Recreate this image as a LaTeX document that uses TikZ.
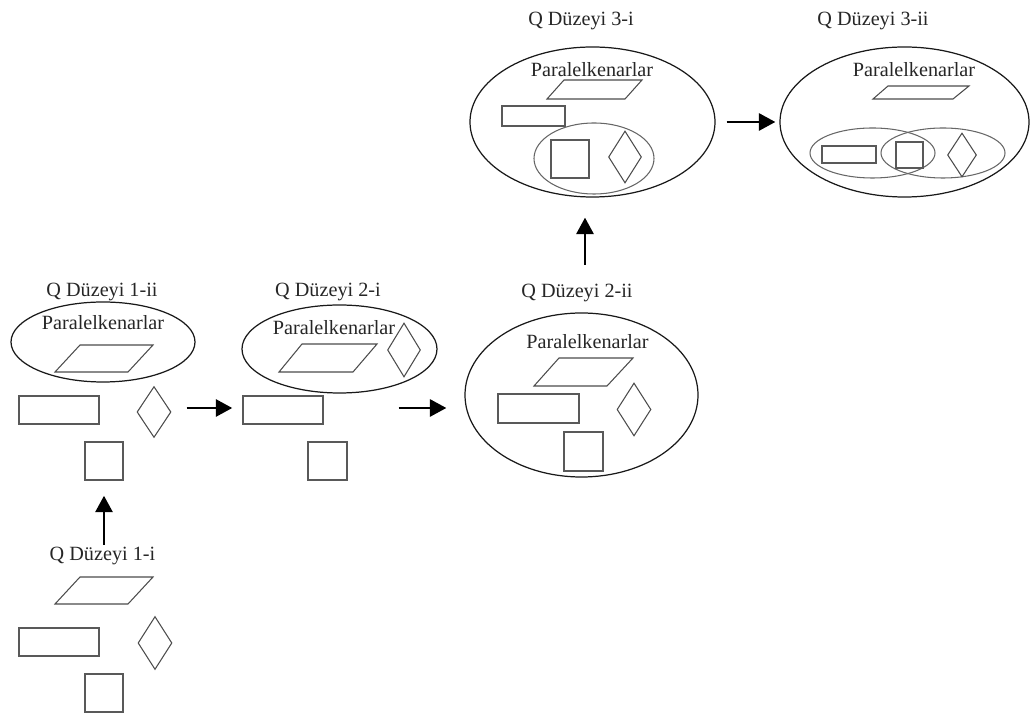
\documentclass[tikz,border=0pt]{standalone}
\usepackage{fontspec}
\setmainfont{Liberation Serif}
\usetikzlibrary{shapes,arrows.meta,positioning}
\tikzset{
  every node/.style={
    font=\fontsize{11.5}{13}\selectfont,
    text=black!85,
    inner sep=0pt
  },
  grup/.style 2 args={
    shape=ellipse,
    draw=black!90,
    line width=0.7pt,
    minimum width=#1,
    minimum height=#2
  },
  altgrup/.style 2 args={
    shape=ellipse,
    draw=black!60,
    line width=0.6pt,
    minimum width=#1,
    minimum height=#2
  },
  dortgen/.style 2 args={
    shape=rectangle,
    draw=black!65,
    line width=0.8pt,
    minimum width=#1,
    minimum height=#2
  },
  eskenar/.style 2 args={
    shape=diamond,
    draw=black!70,
    line width=0.6pt,
    minimum width=#1,
    minimum height=#2
  },
  paralel/.style={
    draw=black!70,
    line width=0.6pt
  },
  ok/.style={
    line width=1.7pt,
    -{Triangle[width=3.4mm,length=3.3mm]}
  }
}

\begin{document}
\begin{tikzpicture}[x=0.2mm,y=-0.2mm]
  \useasboundingbox (0,0) rectangle (1030,713);

  % Q Duzeyi 1-i
  \node (lbl1i) at (102.5,556) {Q Düzeyi 1-i};
  \draw[paralel] (55,604) -- (80,577) -- (153,577) -- (128,604) -- cycle;
  \node [dortgen={16mm}{5.6mm}] (dik1i) at (59,642) {};
  \node [eskenar={6.8mm}{10.6mm}] (esk1i) at (155,643) {};
  \node [dortgen={7.6mm}{7.6mm}] (kare1i) at (104,693) {};

  % Q Duzeyi 1-ii
  \node (lbl1ii) at (102,292) {Q Düzeyi 1-ii};
  \node [grup={36.8mm}{16mm}] (e1ii) at (103,342) {};
  \node (pk1ii) at (103,323) {Paralelkenarlar};
  \draw[paralel] (55,372) -- (80,345) -- (153,345) -- (128,372) -- cycle;
  \node [dortgen={16mm}{5.6mm}] (dik1ii) at (59,410) {};
  \node [eskenar={6.8mm}{10.2mm}] (esk1ii) at (154,412) {};
  \node [dortgen={7.6mm}{7.6mm}] (kare1ii) at (104,461) {};

  % Q Duzeyi 2-i
  \node (lbl2i) at (328,292) {Q Düzeyi 2-i};
  \node [grup={39mm}{17.6mm}] (e2i) at (339.5,349) {};
  \node (pk2i) at (334,328) {Paralelkenarlar};
  \draw[paralel] (279,372) -- (302,344) -- (377,344) -- (353,372) -- cycle;
  \node [eskenar={6.6mm}{10.8mm}] (esk2i) at (404,350) {};
  \node [dortgen={16mm}{5.6mm}] (dik2i) at (283,410) {};
  \node [dortgen={7.8mm}{7.6mm}] (kare2i) at (327.5,461) {};

  % Q Duzeyi 2-ii
  \node (lbl2ii) at (577,293) {Q Düzeyi 2-ii};
  \node [grup={46.6mm}{32.8mm}] (e2ii) at (581.5,395) {};
  \node (pk2ii) at (587.5,342) {Paralelkenarlar};
  \draw[paralel] (534,386) -- (559,358) -- (633,358) -- (607,386) -- cycle;
  \node [dortgen={16.2mm}{5.8mm}] (dik2ii) at (538.5,408.5) {};
  \node [eskenar={6.8mm}{10.6mm}] (esk2ii) at (634,409.5) {};
  \node [dortgen={7.8mm}{7.8mm}] (kare2ii) at (583.5,451.5) {};

  % Q Duzeyi 3-i
  \node (lbl3i) at (581,21) {Q Düzeyi 3-i};
  \node [grup={49mm}{30mm}] (e3i) at (592.5,122) {};
  \node (pk3i) at (592,70) {Paralelkenarlar};
  \draw[paralel] (547,99) -- (564,80) -- (642,80) -- (625,99) -- cycle;
  \node [dortgen={12.6mm}{4mm}] (dik3i) at (533.5,116) {};
  \node [altgrup={24mm}{14.2mm}] (a3i) at (594,158.5) {};
  \node [dortgen={7.6mm}{7.6mm}] (kare3i) at (570,159) {};
  \node [eskenar={6.6mm}{10.4mm}] (esk3i) at (625,157) {};

  % Q Duzeyi 3-ii
  \node (lbl3ii) at (873,21) {Q Düzeyi 3-ii};
  \node [grup={49.8mm}{30mm}] (e3ii) at (904.5,122) {};
  \node (pk3ii) at (914,70) {Paralelkenarlar};
  \draw[paralel] (873,99) -- (888,86) -- (969,86) -- (953,99) -- cycle;
  \node [altgrup={25mm}{10mm}] (sol3ii) at (872.5,153) {};
  \node [altgrup={24.8mm}{10mm}] (sag3ii) at (943,153) {};
  \node [dortgen={10.8mm}{3.4mm}] (dik3ii) at (849,154.5) {};
  \node [dortgen={5.4mm}{5.2mm}] (kare3ii) at (909.5,155) {};
  \node [eskenar={5.8mm}{8.8mm}] (esk3ii) at (962,155) {};

  % gecisler
  \draw[ok, shorten <=0.4mm, shorten >=3mm] (lbl1i.north -| kare1ii.south) -- (kare1ii.south);
  \draw[ok, shorten <=3mm, shorten >=2mm] ([yshift=0.8mm]esk1ii.east) -- ([yshift=0.8mm]esk1ii.east -| dik2i.west);
  \draw[ok, shorten >=3.6mm] ([xshift=15mm,yshift=0.4mm]dik2i.east) -- ([yshift=0.4mm]dik2i.east -| e2ii.west);
  \draw[ok, shorten <=3.8mm, shorten >=4mm] ([xshift=1.6mm]lbl2ii.north) -- ([xshift=1.6mm]lbl2ii.north |- e3i.south);
  \draw[ok, shorten <=2.2mm, shorten >=0.8mm] (e3i.east) -- (e3ii.west);
\end{tikzpicture}
\end{document}
